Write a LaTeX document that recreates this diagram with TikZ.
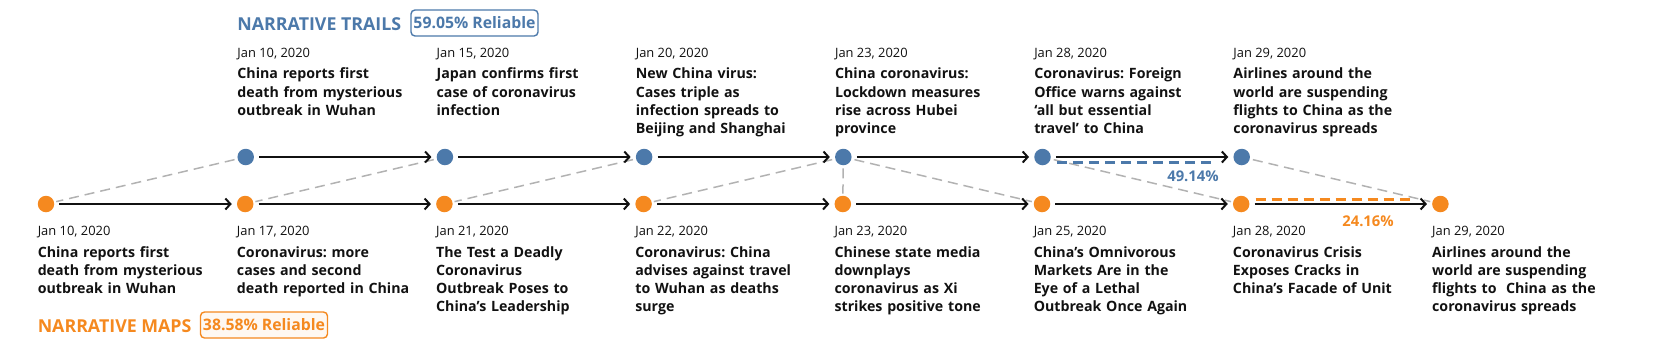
\documentclass[tikz,border=0pt]{standalone}
\usepackage{fontspec}
\setmainfont{Open Sans}
\usepackage{xcolor}
\definecolor{trBlue}{RGB}{76,121,170}
\definecolor{trOrange}{RGB}{245,137,31}
\definecolor{trGray}{RGB}{178,178,178}
\definecolor{trInk}{RGB}{17,17,17}
\usetikzlibrary{positioning,arrows.meta}
\frenchspacing

\begin{document}
\begin{tikzpicture}[x=1pt,y=-1pt,
  bdot/.style={circle,fill=trBlue,minimum size=16.5pt,inner sep=0pt},
  odot/.style={circle,fill=trOrange,minimum size=16.5pt,inner sep=0pt},
  dt/.style={anchor=base west,inner sep=0pt,text=trInk,font=\fontsize{12.9}{15}\selectfont},
  ttl/.style={anchor=base west,inner sep=0pt,text width=185pt,align=left,text=trInk,font=\bfseries\fontsize{14.2}{18.3}\selectfont},
  hd/.style={anchor=base west,inner sep=0pt,font=\bfseries\fontsize{17.8}{20}\selectfont},
  rel/.style={draw,line width=1.4pt,rounded corners=4pt,minimum width=127pt,minimum height=26pt,inner sep=0pt,font=\bfseries\fontsize{15.8}{18}\selectfont},
  pct/.style={inner sep=0pt,font=\bfseries\fontsize{14.8}{17}\selectfont},
  a/.style={-{Straight Barb[length=5pt,width=11pt]},line width=2pt,trInk,shorten <=5pt,shorten >=5pt},
  lnk/.style={trGray,line width=1.5pt,dash pattern=on 10pt off 6pt,shorten <=3pt,shorten >=2pt},
  sc/.style={line width=3pt,dash pattern=on 10pt off 6pt,shorten <=6pt,shorten >=18pt}]
  \useasboundingbox (0,0) rectangle (1661,349);

  % dots
  \foreach \i in {1,...,8} \node[odot] (o\i) at ({46+199.2*(\i-1)},204) {};
  \foreach \j in {1,...,6} \node[bdot] (b\j) at ({46.5+199.2*\j},157) {};

  % trails
  \node[hd,text=trBlue] (hdt) at ([yshift=126.8pt]b1.west) {NARRATIVE TRAILS};
  \node[rel,draw=trBlue,fill=white,text=trBlue] (relt) at (474.5,23) {59.05\% Reliable};
  \node[dt] (bd1) at ([yshift=99.4pt]b1.west) {Jan 10, 2020};
  \node[ttl] (bt1) at ([yshift=78.2pt]b1.west) {China reports first\\death from mysterious\\outbreak in Wuhan};
  \node[dt] (bd2) at ([yshift=99.4pt]b2.west) {Jan 15, 2020};
  \node[ttl] (bt2) at ([yshift=78.2pt]b2.west) {Japan confirms first\\case of coronavirus\\infection};
  \node[dt] (bd3) at ([yshift=99.4pt]b3.west) {Jan 20, 2020};
  \node[ttl] (bt3) at ([yshift=78.2pt]b3.west) {New China virus:\\Cases triple as\\infection spreads to\\Beijing and Shanghai};
  \node[dt] (bd4) at ([yshift=99.4pt]b4.west) {Jan 23, 2020};
  \node[ttl] (bt4) at ([yshift=78.2pt]b4.west) {China coronavirus:\\Lockdown measures\\rise across Hubei\\province};
  \node[dt] (bd5) at ([yshift=99.4pt]b5.west) {Jan 28, 2020};
  \node[ttl] (bt5) at ([yshift=78.2pt]b5.west) {Coronavirus: Foreign\\Office warns against\\‘all but essential\\travel’ to China};
  \node[dt] (bd6) at ([yshift=99.4pt]b6.west) {Jan 29, 2020};
  \node[ttl] (bt6) at ([yshift=78.2pt]b6.west) {Airlines around the\\world are suspending\\flights to China as the\\coronavirus spreads};

  % maps
  \node[hd,text=trOrange] (hdm) at ([yshift=-128pt]o1.west) {NARRATIVE MAPS};
  \node[rel,draw=trOrange,fill=trOrange!6,text=trOrange] (relm) at (264,325) {38.58\% Reliable};
  \node[dt] (od1) at ([yshift=-31.3pt]o1.west) {Jan 10, 2020};
  \node[ttl] (ot1) at ([yshift=-53pt]o1.west) {China reports first\\death from mysterious\\outbreak in Wuhan};
  \node[dt] (od2) at ([yshift=-31.3pt]o2.west) {Jan 17, 2020};
  \node[ttl] (ot2) at ([yshift=-53pt]o2.west) {Coronavirus: more\\cases and second\\death reported in China};
  \node[dt] (od3) at ([yshift=-31.3pt]o3.west) {Jan 21, 2020};
  \node[ttl] (ot3) at ([yshift=-53pt]o3.west) {The Test a Deadly\\Coronavirus\\Outbreak Poses to\\China’s Leadership};
  \node[dt] (od4) at ([yshift=-31.3pt]o4.west) {Jan 22, 2020};
  \node[ttl] (ot4) at ([yshift=-53pt]o4.west) {Coronavirus: China\\advises against travel\\to Wuhan as deaths\\surge};
  \node[dt] (od5) at ([yshift=-31.3pt]o5.west) {Jan 23, 2020};
  \node[ttl] (ot5) at ([yshift=-53pt]o5.west) {Chinese state media\\downplays\\coronavirus as Xi\\strikes positive tone};
  \node[dt] (od6) at ([yshift=-31.3pt]o6.west) {Jan 25, 2020};
  \node[ttl] (ot6) at ([yshift=-53pt]o6.west) {China’s Omnivorous\\Markets Are in the\\Eye of a Lethal\\Outbreak Once Again};
  \node[dt] (od7) at ([yshift=-31.3pt]o7.west) {Jan 28, 2020};
  \node[ttl] (ot7) at ([yshift=-53pt]o7.west) {Coronavirus Crisis\\Exposes Cracks in\\China’s Facade of Unit};
  \node[dt] (od8) at ([yshift=-31.3pt]o8.west) {Jan 29, 2020};
  \node[ttl] (ot8) at ([yshift=-53pt]o8.west) {Airlines around the\\world are suspending\\flights to\ \ China as the\\coronavirus spreads};

  % links between the two lines
  \foreach \j/\i in {1/1,2/2,3/3,4/4,4/5,4/6,5/7,6/8} \draw[lnk] (b\j) -- (o\i);

  % arrows
  \foreach \j [count=\k from 2] in {1,...,5} \draw[a] (b\j) -- (b\k);
  \foreach \i [count=\k from 2] in {1,...,7} \draw[a] (o\i) -- (o\k);

  % scores
  \draw[sc,trBlue] ([yshift=-5pt]b5.east) -- ([yshift=-5pt]b6.west);
  \draw[sc,trOrange] ([yshift=5pt]o7.east) -- ([yshift=5pt]o8.west);
  \node[pct,text=trBlue] (pb) at (1193,176) {49.14\%};
  \node[pct,text=trOrange] (po) at (1368,221) {24.16\%};
\end{tikzpicture}
\end{document}
